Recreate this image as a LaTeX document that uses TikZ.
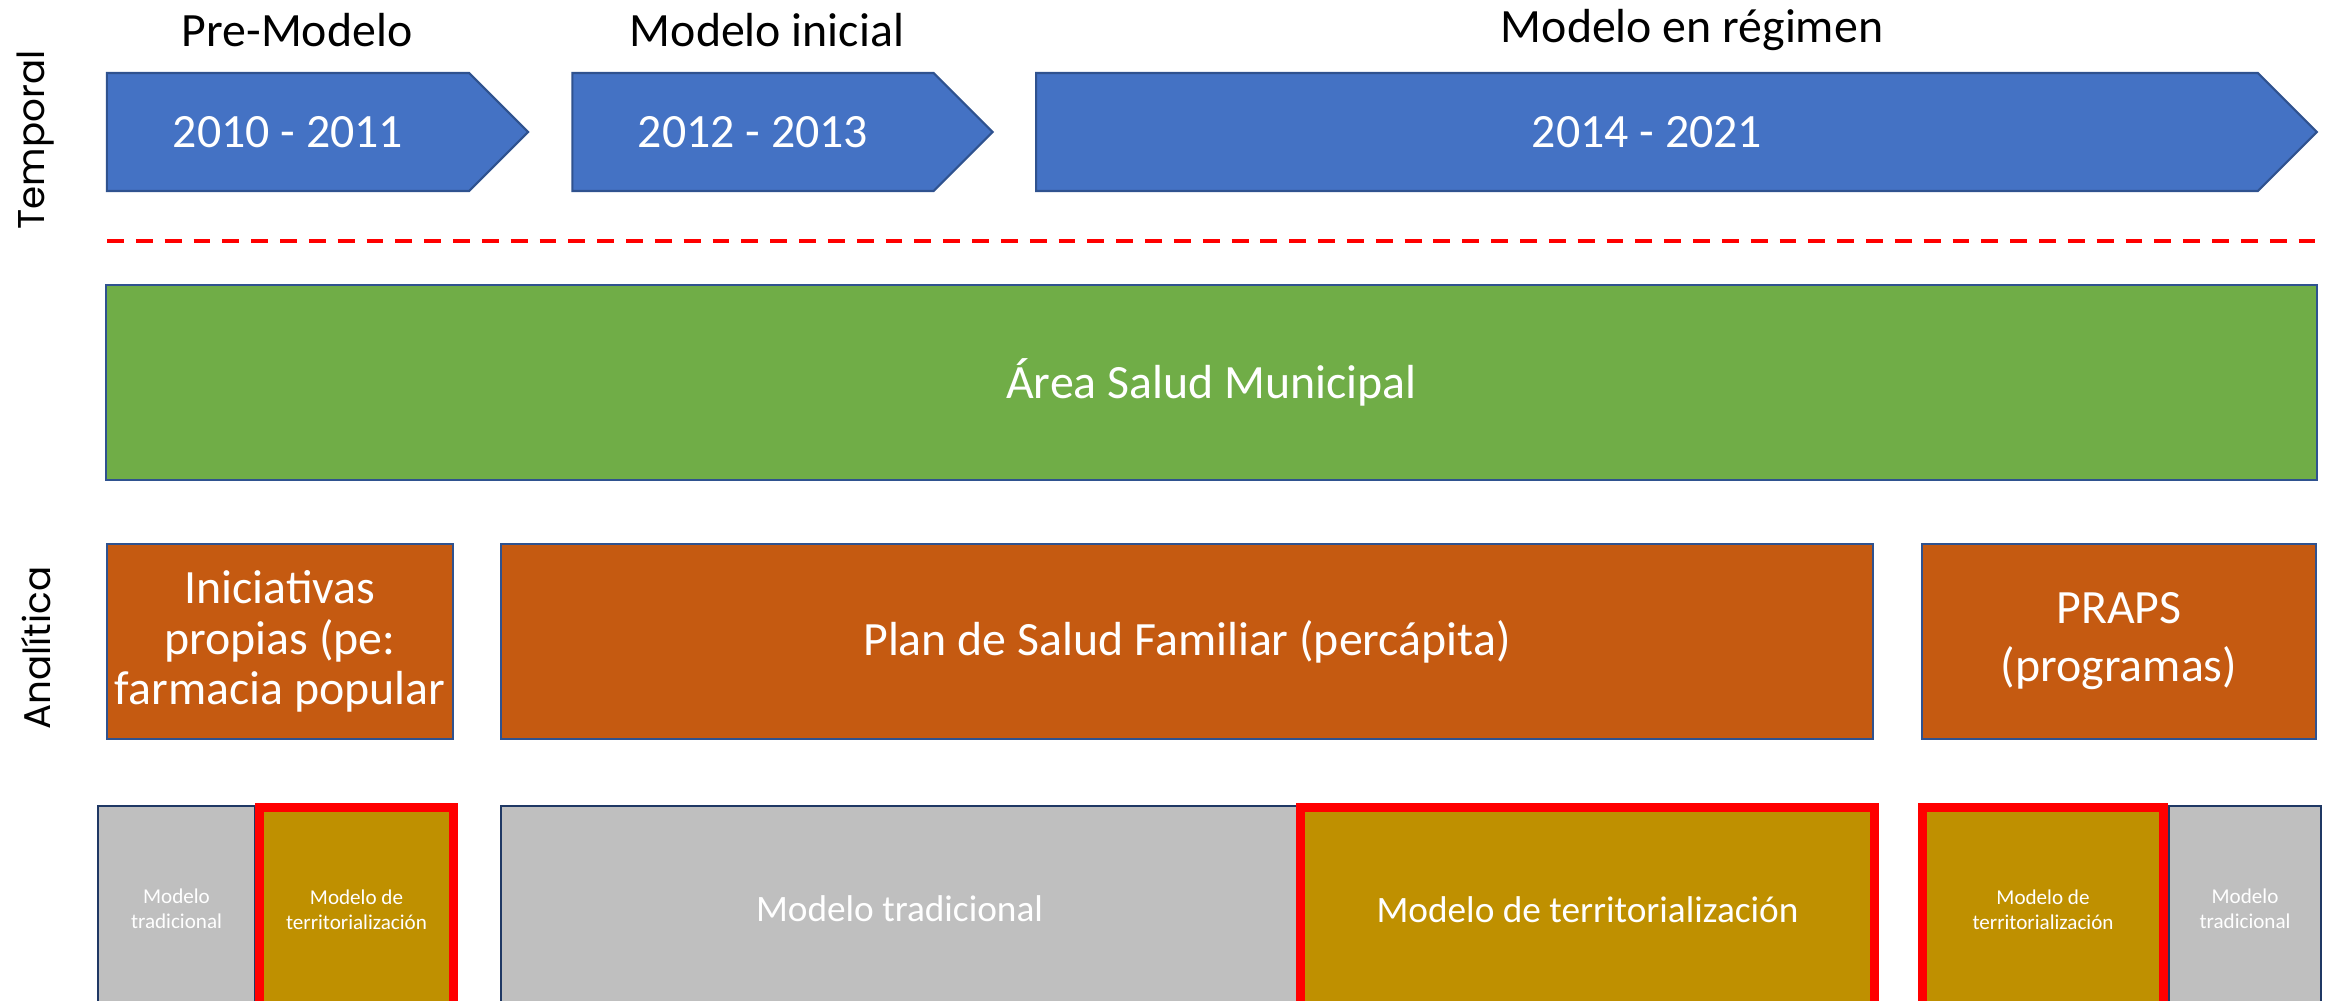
\documentclass[tikz,border=0pt]{standalone}
\usepackage{fontspec}
\setmainfont{Carlito}
\newfontfamily\axisfont{Poppins}
\usetikzlibrary{shapes.symbols}
\definecolor{yearblue}{HTML}{4472C4}
\definecolor{edgeblue}{HTML}{2F528F}
\definecolor{areagreen}{HTML}{70AD47}
\definecolor{planorange}{HTML}{C55A11}
\definecolor{tradgrey}{HTML}{BFBFBF}
\definecolor{terrgold}{HTML}{BF9000}
\definecolor{darknavy}{HTML}{1F3864}

\begin{document}
\begin{tikzpicture}[x=0.01cm, y=-0.01cm,
    every node/.style={inner sep=0pt, outer sep=0pt, align=center},
    axistxt/.style={rotate=90, font=\axisfont\fontsize{10.6}{12}\selectfont},
    phasetxt/.style={font=\fontsize{13.6}{16}\selectfont},
    yearbox/.style={signal, signal to=east, signal pointer angle=90, fill=yearblue, draw=edgeblue, line width=0.6pt, text=white, minimum height=1.18cm, font=\fontsize{13.6}{16}\selectfont},
    areabox/.style={rectangle, fill=areagreen, draw=edgeblue, line width=0.6pt, text=white, minimum height=1.95cm, font=\fontsize{13.6}{16}\selectfont},
    planbox/.style={rectangle, fill=planorange, draw=edgeblue, line width=0.6pt, text=white, minimum height=1.95cm, font=\fontsize{13.6}{16}\selectfont},
    tradbox/.style={rectangle, fill=tradgrey, draw=darknavy, line width=0.6pt, text=white, minimum height=2.06cm, font=\fontsize{6}{7.2}\selectfont},
    terrbox/.style={rectangle, fill=terrgold, draw=red, line width=2.6pt, text=white, minimum height=2.045cm, font=\fontsize{6}{7.2}\selectfont},
    cutline/.style={draw=red, line width=1.2pt, dash pattern=on 4.8pt off 3.4pt}
  ]
  \path[use as bounding box, clip] (0,0) rectangle (2331,1001);

  % eje
  \node[axistxt] (temporal) at (36,140) {Temporal};
  \node[axistxt] (analitica) at (36,648) {Analítica};

  % etapas
  \node[phasetxt] (pre) at (297,30) {Pre-Modelo};
  \node[phasetxt] (ini) at (767,30) {Modelo inicial};
  \node[phasetxt] (reg) at (1692,30) {Modelo en régimen};

  \node[yearbox, minimum width=4.21cm] (y1) at (288,132) {2010 - 2011};
  \node[yearbox, minimum width=4.20cm] (y2) at (753,132) {2012 - 2013};
  \node[yearbox, minimum width=12.80cm] (y3) at (1647,132) {2014 - 2021};

  \coordinate (cutl) at (107,241);
  \coordinate (cutr) at (2316,241);
  \draw[cutline] (cutl) -- (cutr);

  \node[areabox, minimum width=22.09cm] (area) at (1211.5,382.5) {Área Salud Municipal};

  \node[planbox, minimum width=3.46cm, font=\fontsize{13.6}{14.4}\selectfont] (inic) at (280,641.5) {Iniciativas\\propias (pe:\\farmacia popular};
  \node[planbox, minimum width=13.72cm] (plan) at (1187,641.5) {Plan de Salud Familiar (percápita)};
  \node[planbox, minimum width=3.94cm, font=\fontsize{13.6}{16.5}\selectfont] (praps) at (2119,641.5) {PRAPS\\(programas)};

  % modelos
  \node[tradbox, minimum width=1.57cm] (trad1) at (176.5,909) {Modelo\\tradicional};
  \node[tradbox, minimum width=7.97cm, font=\fontsize{10.6}{12.7}\selectfont] (trad2) at (899.5,909) {Modelo tradicional};
  \node[tradbox, minimum width=1.52cm] (trad3) at (2245,909) {Modelo\\tradicional};
  \node[terrbox, minimum width=1.94cm] (terr1) at (356.5,909.75) {Modelo de\\territorialización};
  \node[terrbox, minimum width=5.74cm, font=\fontsize{10.6}{12.7}\selectfont] (terr2) at (1587.5,909.75) {Modelo de territorialización};
  \node[terrbox, minimum width=2.41cm] (terr3) at (2043,909.75) {Modelo de\\territorialización};
\end{tikzpicture}
\end{document}
